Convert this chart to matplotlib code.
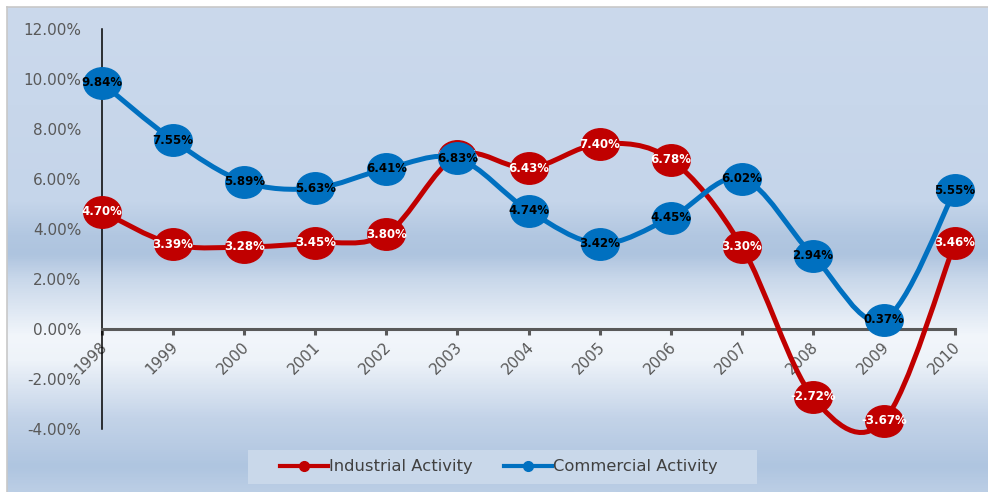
import numpy as np
import matplotlib
matplotlib.use("Agg")
import matplotlib.pyplot as plt
from matplotlib.path import Path
from matplotlib.patches import PathPatch, Rectangle
from matplotlib.lines import Line2D
from matplotlib.colors import LinearSegmentedColormap
import matplotlib.transforms as mtransforms

years = [1998, 1999, 2000, 2001, 2002, 2003, 2004, 2005, 2006, 2007, 2008, 2009, 2010]
industrial = [4.70, 3.39, 3.28, 3.45, 3.80, 6.93, 6.43, 7.40, 6.78, 3.30, -2.72, -3.67, 3.46]
commercial = [9.84, 7.55, 5.89, 5.63, 6.41, 6.83, 4.74, 3.42, 4.45, 6.02, 2.94, 0.37, 5.55]
series_names = ["Industrial Activity", "Commercial Activity"]
yticks = [-4, -2, 0, 2, 4, 6, 8, 10, 12]

RED = "#c00000"
BLUE = "#0070c0"
GREY = "#595959"


def smooth_path(xs, ys):
    # Catmull-Rom style bezier through every point (like Excel's smoothed line)
    pts = np.column_stack([xs, ys]).astype(float)
    n = len(pts)
    verts = [pts[0]]
    codes = [Path.MOVETO]
    for i in range(n - 1):
        p0 = pts[max(i - 1, 0)]
        p1 = pts[i]
        p2 = pts[i + 1]
        p3 = pts[min(i + 2, n - 1)]
        c1 = p1 + (p2 - p0) / 6.0
        c2 = p2 - (p3 - p1) / 6.0
        verts += [c1, c2, p2]
        codes += [Path.CURVE4] * 3
    return Path(verts, codes)


# flattened circle used as the marker
circ = Path.unit_circle()
ellipse = Path(circ.vertices * np.array([1.0, 0.84]), circ.codes)

fig = plt.figure(figsize=(9.88, 4.92), dpi=100)
fig.patch.set_facecolor("white")

# gradient background
bg = fig.add_axes([7 / 988, 0, 1 - 7 / 988, 1 - 7 / 492])
stops = [
    (0.00, "#cbd9ec"),
    (0.40, "#c5d5ea"),
    (0.47, "#b2c7e1"),
    (0.51, "#aec4df"),
    (0.56, "#c8d7ea"),
    (0.68, "#f2f6fb"),
    (0.73, "#eef3f9"),
    (0.85, "#c3d3e8"),
    (0.95, "#afc5e0"),
    (1.00, "#bbcee5"),
]
cmap = LinearSegmentedColormap.from_list("bg", stops)
bg.imshow(np.linspace(0, 1, 600).reshape(-1, 1), cmap=cmap, aspect="auto",
          extent=[0, 1, 0, 1], origin="upper")
bg.set_axis_off()
fig.add_artist(Line2D([7 / 988, 1], [1 - 7 / 492] * 2, color="#c8c8c8", lw=1.2))
fig.add_artist(Line2D([7 / 988] * 2, [0, 1 - 7 / 492], color="#c8c8c8", lw=1.2))

ax = fig.add_axes([102 / 988, 63 / 492, 853 / 988, 400 / 492])
ax.set_facecolor("none")
ax.set_xlim(1998, 2010)
ax.set_ylim(-4, 12)

for s in ["top", "right"]:
    ax.spines[s].set_visible(False)
ax.spines["left"].set_color("black")
ax.spines["left"].set_linewidth(1.1)
ax.spines["bottom"].set_position(("data", 0))
ax.spines["bottom"].set_color(GREY)
ax.spines["bottom"].set_linewidth(2.2)

ax.set_yticks(yticks)
ax.set_yticklabels([f"{v:.2f}%" for v in yticks])
ax.tick_params(axis="y", length=0, pad=15, labelsize=11, labelcolor=GREY)
ax.set_xticks(years)
ax.set_xticklabels([str(y) for y in years], rotation=45, ha="right", va="center",
                   rotation_mode="anchor")
ax.tick_params(axis="x", length=4, width=2.2, color=GREY, direction="out",
               pad=7, labelsize=11, labelcolor=GREY)
shift = mtransforms.ScaledTranslation(3 / 100, 0, fig.dpi_scale_trans)
for lbl in ax.get_xticklabels():
    lbl.set_transform(lbl.get_transform() + shift)

# industrial series
ax.add_patch(PathPatch(smooth_path(years, industrial), facecolor="none",
                       edgecolor=RED, lw=3.6, zorder=3, clip_on=False))
ax.plot(years, industrial, ls="none", marker=ellipse, ms=27, color=RED,
        mec=RED, zorder=4, clip_on=False)
for x, y in zip(years, industrial):
    ax.text(x, y, f"{y:.2f}%", ha="center", va="center", fontsize=8.5,
            fontweight="bold", color="white", zorder=4.5)

# commercial series
ax.add_patch(PathPatch(smooth_path(years, commercial), facecolor="none",
                       edgecolor=BLUE, lw=3.6, zorder=5, clip_on=False))
ax.plot(years, commercial, ls="none", marker=ellipse, ms=27, color=BLUE,
        mec=BLUE, zorder=6, clip_on=False)
for x, y in zip(years, commercial):
    ax.text(x, y, f"{y:.2f}%", ha="center", va="center", fontsize=8.5,
            fontweight="bold", color="black", zorder=7)

# legend
fig.add_artist(Rectangle((248 / 988, 8 / 492), 509 / 988, 34 / 492,
                         transform=fig.transFigure, facecolor="#c9d8ea",
                         edgecolor="none", zorder=1))
handles = [
    Line2D([], [], color=RED, lw=3, marker="o", ms=7),
    Line2D([], [], color=BLUE, lw=3, marker="o", ms=7),
]
leg = fig.legend(handles, series_names, loc="center",
                 bbox_to_anchor=(499 / 988, 25 / 492), ncol=2, frameon=False,
                 fontsize=11.8, handlelength=2.9, handletextpad=0.1,
                 columnspacing=1.9)
for t in leg.get_texts():
    t.set_color("#404040")
leg.set_zorder(2)

fig.savefig("out.png", dpi=100)
